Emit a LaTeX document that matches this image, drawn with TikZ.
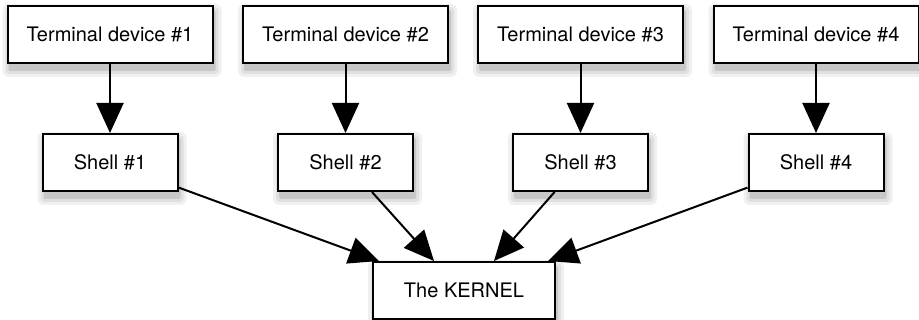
\documentclass[tikz,border=0pt]{standalone}
\usepackage{fontspec}
\setmainfont{TeX Gyre Heros}
\usepackage{tikz}
\usetikzlibrary{arrows.meta,backgrounds}
\newlength{\termwidth}
\setlength{\termwidth}{205pt}
\newlength{\shellwidth}
\setlength{\shellwidth}{135pt}

\newcommand{\boxshadow}[1]{%
    \fill[black!6, rounded corners=6pt] ([xshift=-4pt,yshift=-13pt]#1.south west) rectangle ([xshift=8pt,yshift=1pt]#1.north east);
    \fill[black!12, rounded corners=4pt] ([xshift=-1pt,yshift=-10pt]#1.south west) rectangle ([xshift=5pt,yshift=-2pt]#1.north east);
    \fill[black!22, rounded corners=2pt] ([xshift=2pt,yshift=-7pt]#1.south west) rectangle ([xshift=2pt,yshift=-5pt]#1.north east);
}

\tikzset{
    box/.style={draw, fill=white, line width=2pt, minimum height=57pt,
        font=\fontsize{20}{24}\selectfont},
    link/.style={line width=2pt, -{Triangle[length=30pt,width=27pt]}}
}

\begin{document}
\begin{tikzpicture}[x=1pt, y=1pt]
    \useasboundingbox (0,0) rectangle (919,320);

    \node[box, minimum width=\termwidth] (term1) at (110, 285.5) {Terminal device \#1};
    \node[box, minimum width=\termwidth] (term2) at (345.5, 285.5) {Terminal device \#2};
    \node[box, minimum width=\termwidth] (term3) at (580.5, 285.5) {Terminal device \#3};
    \node[box, minimum width=\termwidth] (term4) at (816, 285.5) {Terminal device \#4};

    \node[box, minimum width=\shellwidth] (shell1) at (110, 157.5) {Shell \#1};
    \node[box, minimum width=\shellwidth] (shell2) at (345.5, 157.5) {Shell \#2};
    \node[box, minimum width=\shellwidth] (shell3) at (580.5, 157.5) {Shell \#3};
    \node[box, minimum width=\shellwidth] (shell4) at (816, 157.5) {Shell \#4};

    \node[box, minimum width=182pt] (kernel) at (464, 29.5) {The KERNEL};

    \begin{scope}[on background layer]
        \boxshadow{term1} \boxshadow{term2} \boxshadow{term3} \boxshadow{term4}
        \boxshadow{shell1} \boxshadow{shell2} \boxshadow{shell3} \boxshadow{shell4}
        \boxshadow{kernel}
    \end{scope}

    \draw[link] (term1) -- (shell1);
    \draw[link] (term2) -- (shell2);
    \draw[link] (term3) -- (shell3);
    \draw[link] (term4) -- (shell4);

    \draw[link] (shell1) -- ([xshift=7pt]kernel.north west);
    \draw[link] (shell2) -- ([xshift=62pt]kernel.north west);
    \draw[link] (shell3) -- ([xshift=-62pt]kernel.north east);
    \draw[link] (shell4) -- ([xshift=-8pt]kernel.north east);
\end{tikzpicture}
\end{document}
